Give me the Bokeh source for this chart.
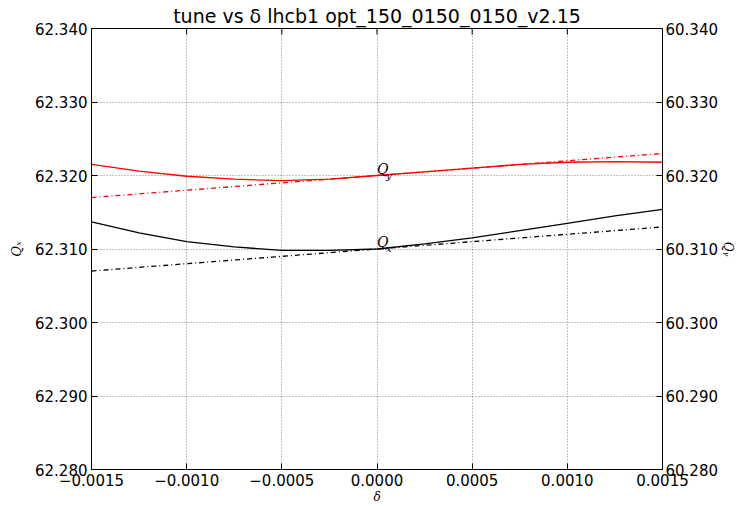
import math
from bokeh.plotting import figure
from bokeh.models import (Range1d, LinearAxis, FixedTicker, NumeralTickFormatter,
                          CustomJSTickFormatter, ColumnDataSource)
from bokeh.core.properties import value
from bokeh.embed import file_html
from bokeh.resources import INLINE

# ---- data ----
delta = [-0.0015, -0.00125, -0.001, -0.00075, -0.0005, -0.00025, 0.0,
         0.00025, 0.0005, 0.00075, 0.001, 0.00125, 0.0015]
qx = [62.3137, 62.3122, 62.3110, 62.3103, 62.3098, 62.3098, 62.3100,
      62.3107, 62.3115, 62.3125, 62.3135, 62.3145, 62.3154]
qy = [60.3215, 60.3206, 60.3199, 60.3195, 60.3193, 60.3195, 60.3200,
      60.3205, 60.3210, 60.3215, 60.3218, 60.3219, 60.3218]
delta_lin = [-0.0015, -0.001, -0.0005, 0.0, 0.0005, 0.001, 0.0015]
qx_lin = [62.307, 62.308, 62.309, 62.310, 62.311, 62.312, 62.313]
qy_lin = [60.317, 60.318, 60.319, 60.320, 60.321, 60.322, 60.323]

x_ticks = [-0.0015, -0.001, -0.0005, 0.0, 0.0005, 0.001, 0.0015]
qx_ticks = [62.28, 62.29, 62.30, 62.31, 62.32, 62.33, 62.34]
qy_ticks = [60.28, 60.29, 60.30, 60.31, 60.32, 60.33, 60.34]

label_x = [0.0, 0.0]
label_y_left = [62.310, 62.320]
label_sub = ["x", "y"]

title_text = "tune vs \u03b4 lhcb1 opt_150_0150_0150_v2.15"

FONT = "DejaVu Sans"
SERIF = "DejaVu Serif"

Y_LO, Y_HI = qx_ticks[0], qx_ticks[-1]

p = figure(width=737, height=506, output_backend="svg", toolbar_location=None,
           x_range=Range1d(x_ticks[0], x_ticks[-1]), y_range=Range1d(Y_LO, Y_HI),
           min_border_left=91, min_border_right=75, min_border_top=28,
           min_border_bottom=37, title=title_text)
p.extra_y_ranges = {"qy": Range1d(qy_ticks[0], qy_ticks[-1])}

p.title.align = "center"
p.title.text_font = FONT
p.title.text_font_size = "19px"
p.title.text_font_style = "normal"
p.title.text_color = "black"
p.title.standoff = 3
p.title.offset = 0

p.outline_line_color = "black"
p.outline_line_width = 1
p.background_fill_color = "white"
p.border_fill_color = "white"

bottom = p.xaxis[0]
left = p.yaxis[0]

bottom.ticker = FixedTicker(ticks=x_ticks)
bottom.formatter = CustomJSTickFormatter(code="""
    if (Math.abs(tick) < 1e-12) { return '0.0000'; }
    return (tick < 0 ? '\u2212' : '') + Math.abs(tick).toFixed(4);
""")
left.ticker = FixedTicker(ticks=qx_ticks)
left.formatter = NumeralTickFormatter(format="0.000")

right = LinearAxis(y_range_name="qy", ticker=FixedTicker(ticks=qy_ticks),
                   formatter=NumeralTickFormatter(format="0.000"))
p.add_layout(right, "right")

for ax in [bottom, left, right]:
    ax.major_tick_in = 6
    ax.major_tick_out = 0
    ax.minor_tick_in = 0
    ax.minor_tick_out = 0
    ax.axis_line_color = None
    ax.major_tick_line_color = "black"
    ax.major_label_text_font = FONT
    ax.major_label_text_font_size = "15px"
    ax.major_label_text_color = "black"
    ax.major_label_standoff = 4
    ax.axis_label_text_font = SERIF
    ax.axis_label_text_font_style = "italic"
    ax.axis_label_text_font_size = "13px"
    ax.axis_label_text_color = "black"
    ax.axis_label_standoff = 6

bottom.major_label_standoff = 4
bottom.axis_label = "\u03b4"
bottom.axis_label_standoff = 1
bottom.axis_label_text_font_size = "12px"
left.axis_label = "Q\u2093"
left.axis_label_standoff = 8
right.axis_label = "Q\u1d67"
right.axis_label_standoff = 0
right.axis_label_text_font_size = "12px"
right.major_label_standoff = 3

p.xgrid.ticker = FixedTicker(ticks=x_ticks)
p.ygrid.ticker = FixedTicker(ticks=qx_ticks)
for g in [p.xgrid[0], p.ygrid[0]]:
    g.grid_line_color = "black"
    g.grid_line_alpha = 0.6
    g.grid_line_dash = "1 2"
    g.grid_line_width = 0.8

# inward tick marks on the top edge (centred on the edge, outer half clipped)
p.scatter(x=x_ticks, y=[Y_HI] * len(x_ticks), marker="dash", angle=math.pi / 2,
          size=12, line_color="black", line_width=1)

p.line(delta, qx, line_color="black", line_width=1.3)
p.line(delta_lin, qx_lin, line_color="black", line_width=1.3, line_dash="5 3 1 3")
p.line(delta, qy, line_color="red", line_width=1.3, y_range_name="qy")
p.line(delta_lin, qy_lin, line_color="red", line_width=1.3, line_dash="5 3 1 3",
       y_range_name="qy")

src = ColumnDataSource(dict(x=label_x, y=label_y_left, sub=label_sub,
                            q=["Q", "Q"]))
p.text(x="x", y="y", text="q", source=src, text_font=value(SERIF),
       text_font_style="italic", text_font_size="14px", text_color="black",
       text_baseline="bottom", text_align="left", y_offset=1)
p.text(x="x", y="y", text="sub", source=src, text_font=value(SERIF),
       text_font_style="italic", text_font_size="10px", text_color="black",
       text_baseline="bottom", text_align="left", x_offset=9, y_offset=5)

open("out.html", "w").write(file_html(p, INLINE))
